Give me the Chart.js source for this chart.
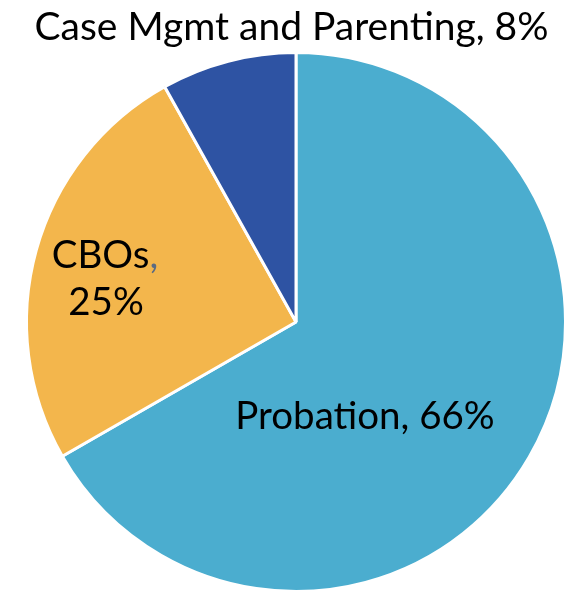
<!DOCTYPE html>
<html>
<head>
<meta charset="utf-8">
<script src="https://cdn.jsdelivr.net/npm/chart.js@4/dist/chart.umd.min.js"></script>
<style>
	html, body { margin: 0; padding: 0; background: #fff; }
	#wrap { width: 569px; height: 593px; }
</style>
</head>
<body>
<div id="wrap"><canvas id="pie" width="569" height="593"></canvas></div>
<script>
const categories = ['Probation', 'CBOs', 'Case Mgmt and Parenting'];
const shares = [66.7, 25.2, 8.1];
const shownPercents = ['66%', '25%', '8%'];
const sliceColors = ['#4badcf', '#f3b64c', '#2e53a3'];

const FONT = '"Lato", "Open Sans", sans-serif';

// draws the slice labels where the original puts them
const labelPlugin = {
	id: 'sliceLabels',
	afterDraw(chart) {
		const ctx = chart.ctx;
		const arc = chart.getDatasetMeta(0).data[0];
		const cx = arc.x, cy = arc.y;
		ctx.save();
		ctx.fillStyle = '#000';
		ctx.textBaseline = 'alphabetic';
		ctx.font = '38.5px ' + FONT;

		// Probation
		ctx.textAlign = 'center';
		ctx.fillText(categories[0] + ', ' + shownPercents[0], cx + 69, cy + 107);

		// CBOs, two lines, grey comma
		const word = categories[1];
		const w1 = ctx.measureText(word).width;
		const wc = ctx.measureText(',').width;
		const left = cx - 191 - (w1 + wc) / 2;
		ctx.textAlign = 'left';
		ctx.fillText(word, left, cy - 54);
		ctx.fillStyle = '#5b6b82';
		ctx.fillText(',', left + w1, cy - 54);
		ctx.fillStyle = '#000';
		ctx.textAlign = 'center';
		ctx.fillText(shownPercents[1], cx - 190, cy - 7);

		// Case Mgmt, above the pie
		ctx.font = '39px ' + FONT;
		ctx.fillText(categories[2] + ', ' + shownPercents[2], chart.width / 2 + 7, 40);
		ctx.restore();
	}
};

const ctx = document.getElementById('pie').getContext('2d');
new Chart(ctx, {
	type: 'pie',
	data: {
		labels: categories,
		datasets: [{
			data: shares,
			backgroundColor: sliceColors,
			borderColor: '#ffffff',
			borderWidth: 3
		}]
	},
	options: {
		responsive: false,
		animation: false,
		layout: { padding: { top: 51, left: 24, right: 1, bottom: 0 } },
		plugins: {
			legend: { display: false },
			tooltip: { enabled: false }
		}
	},
	plugins: [labelPlugin]
});
</script>
</body>
</html>
